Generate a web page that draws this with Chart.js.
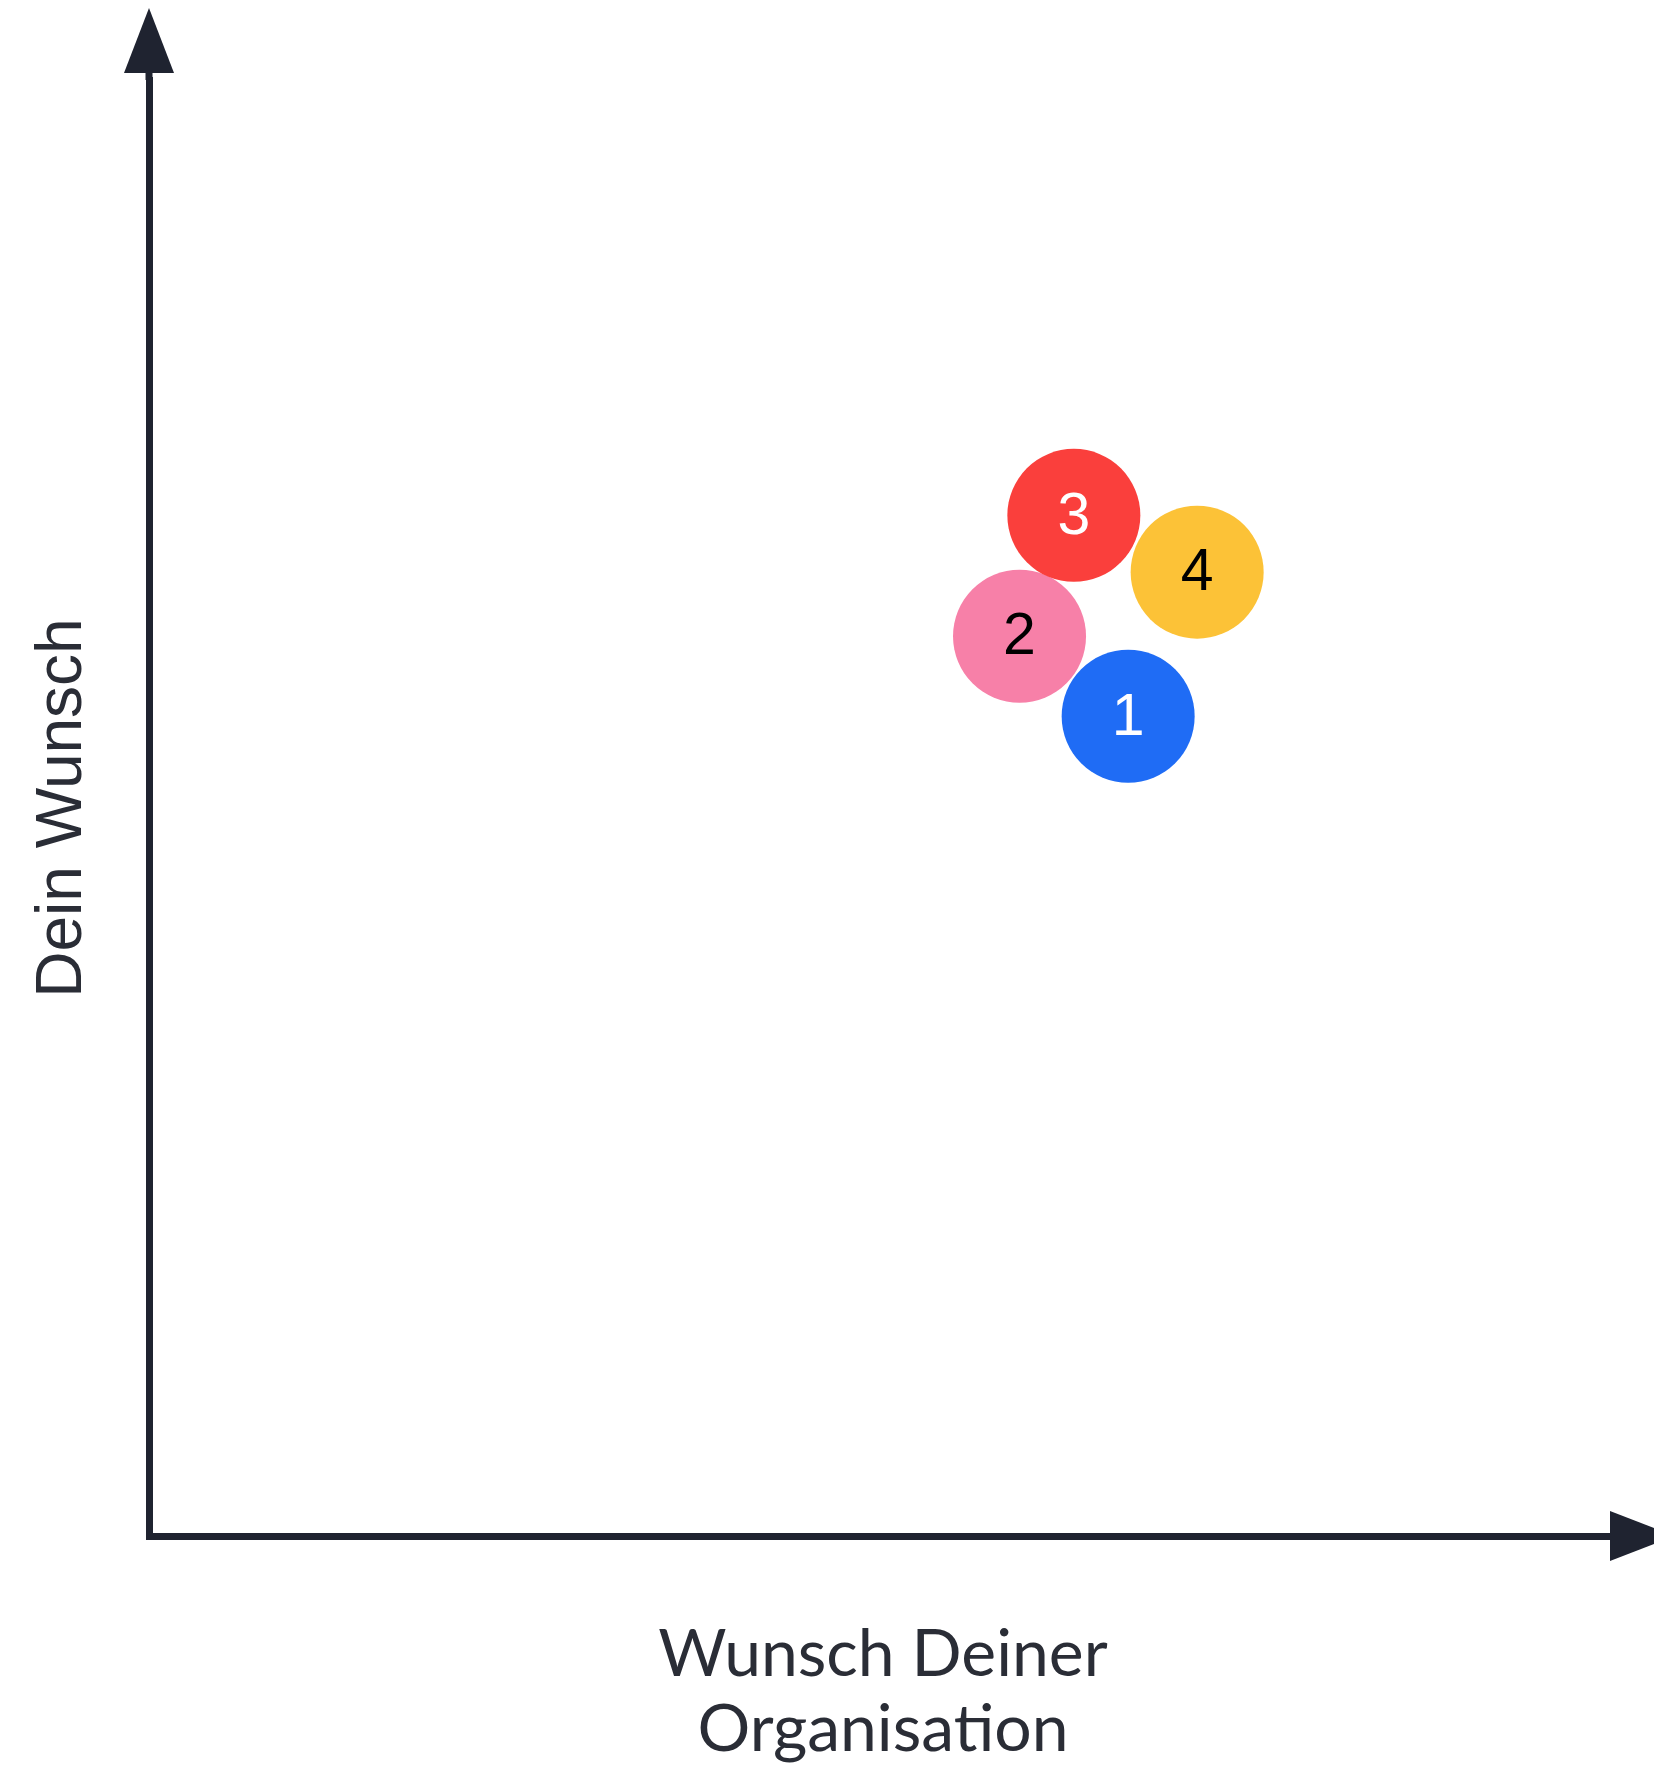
<!DOCTYPE html>
<html>
<head>
<meta charset="utf-8">
<title>Wunsch Matrix</title>
<script src="https://cdn.jsdelivr.net/npm/chart.js@4/dist/chart.umd.min.js"></script>
<style>
  html, body { margin: 0; padding: 0; background: #fff; }
  #wrap { width: 1654px; height: 1765px; position: relative; }
</style>
</head>
<body>
<div id="wrap"><canvas id="matrix"></canvas></div>
<script>
// Data (axis range 0..10, no ticks shown)
const labels = ['1', '2', '3', '4'];
const xValues = [6.67, 5.93, 6.30, 7.14];   // Wunsch Deiner Organisation
const yValues = [5.63, 6.18, 7.01, 6.62];   // Dein Wunsch
const colors = ['#1f6cf5', '#f780a8', '#fa3f3c', '#fcc237'];
const textColors = ['#ffffff', '#000000', '#ffffff', '#000000'];

const AXIS_COLOR = '#1f2330';

// arrow heads at the end of both axes
const arrowPlugin = {
    id: 'arrows',
    afterDraw(chart) {
        const { ctx, chartArea: a } = chart;
        ctx.save();
        ctx.fillStyle = AXIS_COLOR;
        ctx.strokeStyle = AXIS_COLOR;
        ctx.lineWidth = 7;
        // y axis shaft + head
        ctx.beginPath();
        ctx.moveTo(a.left, a.top);
        ctx.lineTo(a.left, a.top - 8);
        ctx.stroke();
        ctx.beginPath();
        ctx.moveTo(a.left, a.top - 72);
        ctx.lineTo(a.left - 25, a.top - 7);
        ctx.lineTo(a.left + 25, a.top - 7);
        ctx.closePath();
        ctx.fill();
        // x axis head
        ctx.beginPath();
        ctx.moveTo(a.right + 58, a.bottom);
        ctx.lineTo(a.right - 7, a.bottom - 25);
        ctx.lineTo(a.right - 7, a.bottom + 25);
        ctx.closePath();
        ctx.fill();
        ctx.restore();
    }
};

// numbers inside the bubbles
const numberPlugin = {
    id: 'numbers',
    afterDatasetsDraw(chart) {
        const { ctx } = chart;
        const meta = chart.getDatasetMeta(0);
        ctx.save();
        ctx.font = '59px "Liberation Sans", Arial, sans-serif';
        ctx.textAlign = 'center';
        ctx.textBaseline = 'middle';
        meta.data.forEach((pt, i) => {
            ctx.fillStyle = textColors[i];
            ctx.fillText(labels[i], pt.x, pt.y + 2);
        });
        ctx.restore();
    }
};

new Chart(document.getElementById('matrix'), {
    type: 'scatter',
    data: {
        labels: labels,
        datasets: [{
            data: xValues.map((x, i) => ({ x: x, y: yValues[i] })),
            backgroundColor: colors,
            borderWidth: 0,
            pointRadius: 66.5,
            pointHoverRadius: 66.5
        }]
    },
    options: {
        responsive: true,
        maintainAspectRatio: false,
        animation: false,
        layout: {
            autoPadding: false, // big points would otherwise push the right edge in
            padding: { top: 80, right: 37, left: 0, bottom: 0 }
        },
        plugins: {
            legend: { display: false },
            tooltip: { enabled: false }
        },
        scales: {
            x: {
                min: 0, max: 10,
                ticks: { display: false },
                grid: { display: false, drawTicks: false },
                border: { display: true, color: AXIS_COLOR, width: 7 },
                title: {
                    display: true,
                    text: ['Wunsch Deiner', 'Organisation'],
                    color: '#2a2d36',
                    font: { family: 'Lato, sans-serif', size: 66, lineHeight: 75 / 66 },
                    padding: { top: 81, bottom: -2 }
                }
            },
            y: {
                min: 0, max: 10,
                ticks: { display: false },
                grid: { display: false, drawTicks: false },
                border: { display: true, color: AXIS_COLOR, width: 7 },
                title: {
                    display: true,
                    text: 'Dein Wunsch',
                    color: '#2a2d36',
                    font: { family: '"Liberation Sans", Arial, sans-serif', size: 64, lineHeight: 1 },
                    padding: { top: 31.5, bottom: 53.5 }
                }
            }
        }
    },
    plugins: [arrowPlugin, numberPlugin]
});
</script>
</body>
</html>
